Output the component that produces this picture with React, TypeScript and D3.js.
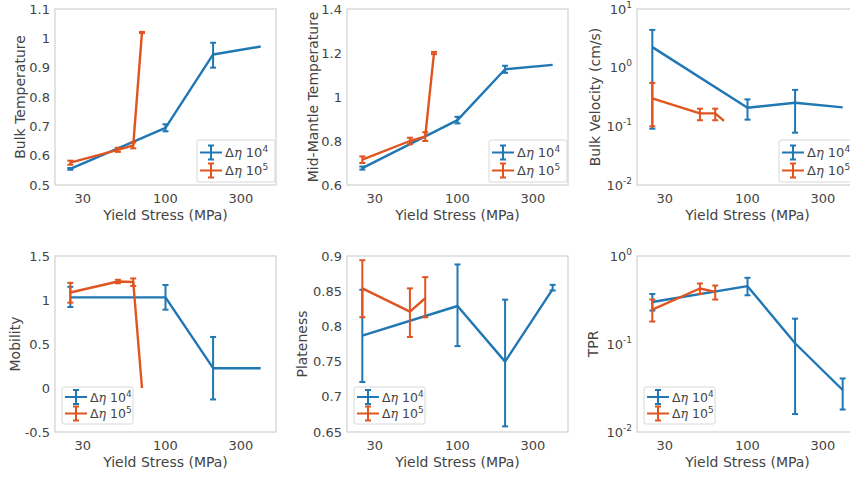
import React from 'react';
import * as d3 from 'd3';

// ---- data ----
const xTicks = [30, 100, 300];
const blueX = [25, 100, 200, 400];
const redX = [25, 50, 62.5, 71];

const bulkTempBlue = [0.555, 0.695, 0.945, 0.972];
const bulkTempBlueLo = [0.552, 0.683, 0.9, 0.972];
const bulkTempBlueHi = [0.558, 0.707, 0.985, 0.972];
const bulkTempRed = [0.576, 0.62, 0.635, 1.02];
const bulkTempRedLo = [0.569, 0.613, 0.625, 1.018];
const bulkTempRedHi = [0.583, 0.627, 0.645, 1.022];

const midTempBlue = [0.677, 0.895, 1.126, 1.146];
const midTempBlueLo = [0.67, 0.88, 1.11, 1.146];
const midTempBlueHi = [0.684, 0.91, 1.142, 1.146];
const midTempRed = [0.715, 0.8, 0.82, 1.2];
const midTempRedLo = [0.7, 0.785, 0.8, 1.195];
const midTempRedHi = [0.73, 0.815, 0.84, 1.205];

const velBlue = [2.24, 0.207, 0.252, 0.21];
const velBlueLo = [0.091, 0.13, 0.078, 0.21];
const velBlueHi = [4.4, 0.288, 0.418, 0.21];
const velRed = [0.3, 0.166, 0.166, 0.124];
const velRedLo = [0.1, 0.127, 0.127, 0.124];
const velRedHi = [0.55, 0.2, 0.2, 0.124];

const mobBlue = [1.03, 1.03, 0.225, 0.225];
const mobBlueLo = [0.92, 0.89, -0.13, 0.225];
const mobBlueHi = [1.15, 1.17, 0.58, 0.225];
const mobRed = [1.085, 1.21, 1.205, 0.0];
const mobRedLo = [0.97, 1.19, 1.16, 0.0];
const mobRedHi = [1.195, 1.23, 1.245, 0.0];

const platBlue = [0.787, 0.829, 0.75, 0.853];
const platBlueLo = [0.721, 0.772, 0.658, 0.851];
const platBlueHi = [0.852, 0.888, 0.838, 0.859];
const platRed = [0.854, 0.821, 0.84, null];
const platRedLo = [0.813, 0.785, 0.813, null];
const platRedHi = [0.894, 0.854, 0.87, null];

const tprBlue = [0.3, 0.454, 0.102, 0.03];
const tprBlueLo = [0.24, 0.358, 0.016, 0.018];
const tprBlueHi = [0.37, 0.565, 0.194, 0.0406];
const tprRed = [0.246, 0.427, 0.391, null];
const tprRedLo = [0.18, 0.371, 0.32, null];
const tprRedHi = [0.32, 0.487, 0.462, null];

const bulkTempTicks = [0.5, 0.6, 0.7, 0.8, 0.9, 1, 1.1];
const midTempTicks = [0.6, 0.8, 1, 1.2, 1.4];
const velTicks = [0.01, 0.1, 1, 10];
const mobTicks = [-0.5, 0, 0.5, 1, 1.5];
const platTicks = [0.65, 0.7, 0.75, 0.8, 0.85, 0.9];
const tprTicks = [0.01, 0.1, 1];

const BLUE = '#1f77b4';
const RED = '#e0541f';
const TEXT = '#444';
const FONT = 'DejaVu Sans, sans-serif';

type Series = { x: number[]; y: (number | null)[]; lo: (number | null)[]; hi: (number | null)[]; color: string };

type PanelProps = {
  left: number; top: number; width: number; height: number;
  log: boolean; domain: [number, number]; ticks: number[];
  ylabel: string; ylabelX: number; legend: 'lr' | 'll';
  series: Series[];
};

function LegendLabel({ exp }: { exp: string }) {
  return (
    <>
      <tspan>Δ</tspan><tspan fontStyle="italic" fontFamily="DejaVu Serif, serif">η</tspan>
      <tspan> 10</tspan><tspan fontSize={9} dy={-5}>{exp}</tspan>
    </>
  );
}

function Panel(p: PanelProps) {
  const x = d3.scaleLog().domain([20, 500]).range([p.left, p.left + p.width]);
  const y = p.log
    ? d3.scaleLog().domain(p.domain).range([p.top + p.height, p.top])
    : d3.scaleLinear().domain(p.domain).range([p.top + p.height, p.top]);
  const bottom = p.top + p.height;
  const cx = p.left + p.width / 2;
  const line = d3.line<[number, number]>().x(d => x(d[0])).y(d => y(d[1]));
  const clipId = `clip-${p.left}-${p.top}`;

  const isLR = p.legend === 'lr';
  const lw = isLR ? 78 : 71, lh = isLR ? 42 : 37;
  const lx = isLR ? p.left + p.width - lw - 1 : p.left + 7;
  const ly = isLR ? bottom - lh - 3 : bottom - lh - 8;
  const gap = isLR ? 18 : 16.5;
  const first = isLR ? 12.5 : 10;
  const fs = isLR ? 13 : 12.5;

  return (
    <g>
      <defs>
        <clipPath id={clipId}>
          <rect x={p.left - 6} y={p.top - 6} width={p.width + 12} height={p.height + 12} />
        </clipPath>
      </defs>
      <rect x={p.left} y={p.top} width={p.width} height={p.height} fill="#fff" stroke="#d4d4d4" strokeWidth={1.3} />
      {p.ticks.map(t => (
        <text key={t} x={p.left - 5} y={y(t) + 4.5} textAnchor="end" fontSize={13} fill={TEXT} fontFamily={FONT}>
          {p.log ? (
            <>
              <tspan>10</tspan>
              <tspan fontSize={9} dy={-6}>{String(Math.round(Math.log10(t)))}</tspan>
            </>
          ) : String(t)}
        </text>
      ))}
      {xTicks.map(t => (
        <text key={t} x={x(t)} y={bottom + 18} textAnchor="middle" fontSize={13} fill={TEXT} fontFamily={FONT}>{t}</text>
      ))}
      <text x={cx} y={bottom + 35} textAnchor="middle" fontSize={14} fill={TEXT} fontFamily={FONT}>Yield Stress (MPa)</text>
      <text transform={`translate(${p.ylabelX},${p.top + p.height / 2}) rotate(-90)`} textAnchor="middle" dominantBaseline="central" fontSize={14} fill={TEXT} fontFamily={FONT}>{p.ylabel}</text>
      <g clipPath={`url(#${clipId})`}>
        {p.series.map((s, si) => {
          const pts: [number, number][] = [];
          s.x.forEach((xv, i) => { if (s.y[i] != null) pts.push([xv, s.y[i] as number]); });
          return (
            <g key={si}>
              <path d={line(pts) || ''} fill="none" stroke={s.color} strokeWidth={2.4} strokeLinejoin="round" />
              {s.x.map((xv, i) => {
                const lo = s.lo[i], hi = s.hi[i];
                if (lo == null || hi == null || hi - lo <= 0) return null;
                const px = x(xv);
                return (
                  <g key={i} stroke={s.color} strokeWidth={2}>
                    <line x1={px} x2={px} y1={y(lo)} y2={y(hi)} />
                    <line x1={px - 3} x2={px + 3} y1={y(lo)} y2={y(lo)} />
                    <line x1={px - 3} x2={px + 3} y1={y(hi)} y2={y(hi)} />
                  </g>
                );
              })}
            </g>
          );
        })}
      </g>
      <g>
        <rect x={lx} y={ly} width={lw} height={lh} rx={2} fill="#fff" fillOpacity={0.85} stroke="#d8d8d8" strokeWidth={1} />
        {[{ c: BLUE, e: '4' }, { c: RED, e: '5' }].map((it, i) => {
          const ey = ly + first + i * gap;
          const hx = lx + 14;
          return (
            <g key={i}>
              <g stroke={it.c} strokeWidth={2}>
                <line x1={lx + 3} x2={lx + 25} y1={ey} y2={ey} />
                <line x1={hx} x2={hx} y1={ey - 7} y2={ey + 7} />
                <line x1={hx - 3} x2={hx + 3} y1={ey - 7} y2={ey - 7} />
                <line x1={hx - 3} x2={hx + 3} y1={ey + 7} y2={ey + 7} />
              </g>
              <text x={lx + 28} y={ey + 4.5} fontSize={fs} fill={TEXT} fontFamily={FONT}>
                <LegendLabel exp={it.e} />
              </text>
            </g>
          );
        })}
      </g>
    </g>
  );
}

const colLeft = [55, 347, 637];
const rowTop = [9, 256];
const PW = 221, PH = 176;

export default function App() {
  const mk = (b: number[], bl: number[], bh: number[], r: (number | null)[], rl: (number | null)[], rh: (number | null)[]): Series[] => [
    { x: blueX, y: b, lo: bl, hi: bh, color: BLUE },
    { x: redX, y: r, lo: rl, hi: rh, color: RED },
  ];
  const panels: PanelProps[] = [
    { left: colLeft[0], top: rowTop[0], width: PW, height: PH, log: false, domain: [0.5, 1.1], ticks: bulkTempTicks, ylabel: 'Bulk Temperature', ylabelX: 20, legend: 'lr', series: mk(bulkTempBlue, bulkTempBlueLo, bulkTempBlueHi, bulkTempRed, bulkTempRedLo, bulkTempRedHi) },
    { left: colLeft[1], top: rowTop[0], width: PW, height: PH, log: false, domain: [0.6, 1.4], ticks: midTempTicks, ylabel: 'Mid-Mantle Temperature', ylabelX: 313, legend: 'lr', series: mk(midTempBlue, midTempBlueLo, midTempBlueHi, midTempRed, midTempRedLo, midTempRedHi) },
    { left: colLeft[2], top: rowTop[0], width: PW, height: PH, log: true, domain: [0.01, 10], ticks: velTicks, ylabel: 'Bulk Velocity (cm/s)', ylabelX: 595, legend: 'lr', series: mk(velBlue, velBlueLo, velBlueHi, velRed, velRedLo, velRedHi) },
    { left: colLeft[0], top: rowTop[1], width: PW, height: PH, log: false, domain: [-0.5, 1.5], ticks: mobTicks, ylabel: 'Mobility', ylabelX: 15, legend: 'll', series: mk(mobBlue, mobBlueLo, mobBlueHi, mobRed, mobRedLo, mobRedHi) },
    { left: colLeft[1], top: rowTop[1], width: PW, height: PH, log: false, domain: [0.65, 0.9], ticks: platTicks, ylabel: 'Plateness', ylabelX: 302, legend: 'll', series: mk(platBlue, platBlueLo, platBlueHi, platRed, platRedLo, platRedHi) },
    { left: colLeft[2], top: rowTop[1], width: PW, height: PH, log: true, domain: [0.01, 1], ticks: tprTicks, ylabel: 'TPR', ylabelX: 593, legend: 'll', series: mk(tprBlue, tprBlueLo, tprBlueHi, tprRed, tprRedLo, tprRedHi) },
  ];
  return (
    <svg width={850} height={478} style={{ position: 'absolute', left: 0, top: 0, background: '#fff' }}>
      <rect x={0} y={0} width={850} height={478} fill="#fff" />
      {panels.map((p, i) => <Panel key={i} {...p} />)}
    </svg>
  );
}
